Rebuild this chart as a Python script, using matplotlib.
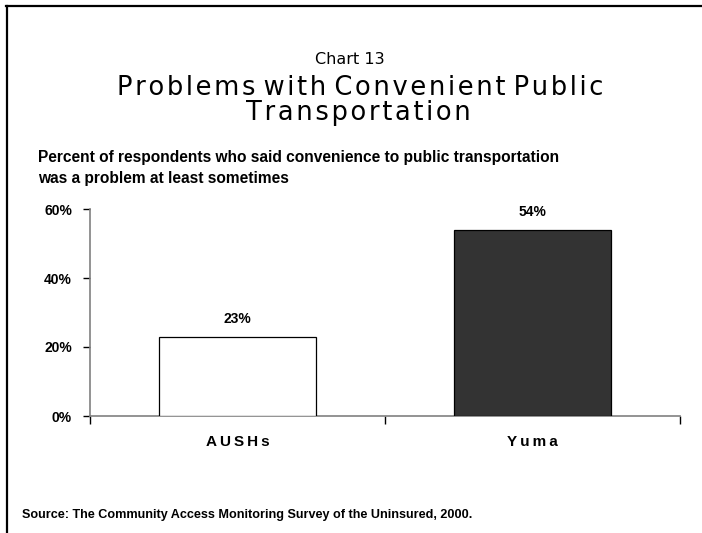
import matplotlib
matplotlib.use("Agg")
import matplotlib.pyplot as plt
from matplotlib.lines import Line2D
from matplotlib.ticker import FixedLocator, NullFormatter

categories = ["AUSHs", "Yuma"]
values = [23, 54]
bar_colors = ["white", "#333333"]
ytick_values = [0, 20, 40, 60]
ytick_labels = ["0%", "20%", "40%", "60%"]


def spaced(text, sep="\u2009"):
    # letter spacing inside words only
    return " ".join(sep.join(word) for word in text.split(" "))


def main():
    plt.rcParams["font.family"] = ["Liberation Sans", "DejaVu Sans"]
    fig = plt.figure(figsize=(7.02, 5.33), dpi=100)

    # Frame lines (top and left only, like the cropped slide).
    fig.add_artist(Line2D([6 / 702, 1.0], [1 - 5.5 / 533, 1 - 5.5 / 533],
                          transform=fig.transFigure, color="black", lw=1.6))
    fig.add_artist(Line2D([6.5 / 702, 6.5 / 702], [0.0, 1 - 5.5 / 533],
                          transform=fig.transFigure, color="black", lw=1.6))

    # Titles.
    fig.text(350 / 702, 1 - 60 / 533, "Chart 13", ha="center", va="center",
             fontsize=11.5, family=["DejaVu Sans"])
    fig.text(360 / 702, 1 - 88 / 533,
             spaced("Problems with Convenient Public", "\u200a"),
             ha="center", va="center", fontsize=18.5, family=["DejaVu Sans"])
    fig.text(358 / 702, 1 - 113 / 533, spaced("Transportation", "\u200a"),
             ha="center", va="center", fontsize=18.5, family=["DejaVu Sans"])

    fig.text(38 / 702, 1 - 158 / 533,
             "Percent of respondents who said convenience to public transportation",
             ha="left", va="center", fontsize=11.2, fontweight="bold")
    fig.text(38 / 702, 1 - 178 / 533,
             "was a problem at least sometimes",
             ha="left", va="center", fontsize=11.2, fontweight="bold")

    fig.text(22 / 702, 1 - 515 / 533,
             "Source: The Community Access Monitoring Survey of the Uninsured, 2000.",
             ha="left", va="center", fontsize=9.1, fontweight="bold")

    ax = fig.add_axes([90 / 702, 1 - 416 / 533, 590 / 702, 207 / 533])
    x = list(range(len(categories)))
    ax.bar(x, values, width=0.53, color=bar_colors, edgecolor="black",
           linewidth=0.9, zorder=3)
    for xi, v in zip(x, values):
        ax.text(xi, v + 3, "%d%%" % v, ha="center", va="bottom",
                fontsize=10, fontweight="bold")

    ax.set_xlim(-0.5, len(categories) - 0.5)
    ax.set_ylim(0, 60)

    for side in ["top", "right"]:
        ax.spines[side].set_visible(False)
    ax.spines["left"].set_color("#808080")
    ax.spines["left"].set_linewidth(1.2)
    ax.spines["bottom"].set_color("#808080")
    ax.spines["bottom"].set_linewidth(1.2)

    ax.set_yticks(ytick_values)
    ax.set_yticklabels(ytick_labels, fontsize=10, fontweight="bold")
    ax.tick_params(axis="y", length=5, width=1, color="black", pad=8)

    # Category boundary ticks on x axis, labels at centers.
    ax.xaxis.set_major_locator(FixedLocator([-0.5, 0.5, 1.5]))
    ax.xaxis.set_major_formatter(NullFormatter())
    ax.xaxis.set_minor_locator(FixedLocator(x))
    ax.set_xticklabels([spaced(c) for c in categories], minor=True,
                       fontsize=11, fontweight="bold")
    ax.tick_params(axis="x", which="major", length=6, width=1,
                   color="black", direction="out")
    ax.tick_params(axis="x", which="minor", length=0, pad=14)

    fig.savefig("out.png", dpi=100)


if __name__ == "__main__":
    main()
